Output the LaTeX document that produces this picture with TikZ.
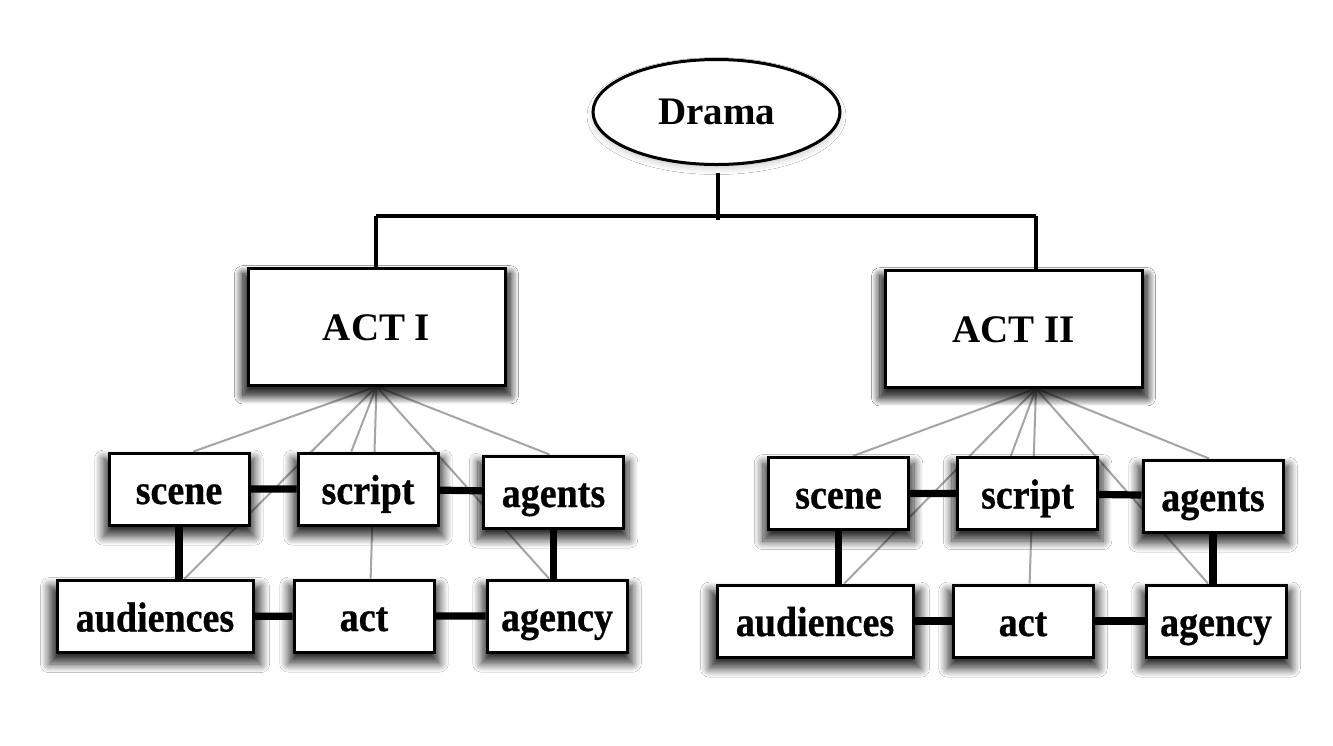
\documentclass[tikz,border=0pt]{standalone}
\usepackage{fontspec}
\setmainfont{Liberation Serif}
\newfontfamily\boxfont{Liberation Serif}[FakeStretch=0.905, FakeBold=0.6]
\usetikzlibrary{shapes.geometric,shadows.blur,backgrounds}
\definecolor{linkgray}{RGB}{165,165,165}
\tikzset{
  boxshadow/.style={blur shadow={shadow xshift=0pt, shadow yshift=-4pt, shadow scale=1.08, shadow blur radius=4pt, shadow blur steps=12, shadow opacity=80}},
  unit/.style={draw=black, line width=1.5pt, fill=white, inner sep=0pt, boxshadow,
    font=\boxfont\bfseries\fontsize{21}{24}\selectfont, text height=17pt, text depth=2pt,
    minimum width=70pt, minimum height=36pt},
  widebox/.style={unit, minimum width=98pt},
  actbox/.style={unit, font=\bfseries\fontsize{19.5}{23}\selectfont, minimum width=128.5pt, minimum height=58.5pt, text height=14pt, text depth=0pt,
    blur shadow={shadow xshift=0pt, shadow yshift=-4pt, shadow scale=1.04, shadow blur radius=4pt, shadow blur steps=12, shadow opacity=60}},
  topnode/.style={ellipse, draw=black, line width=1.5pt, fill=white, inner sep=0pt,
    font=\bfseries\fontsize{19.5}{23}\selectfont, minimum width=123.5pt, minimum height=52.5pt,
    blur shadow={shadow xshift=0pt, shadow yshift=-2pt, shadow blur radius=3pt, shadow opacity=20}},
  tree/.style={black, line width=1.7pt},
  link/.style={linkgray, line width=1pt},
  bond/.style={black, line width=3.6pt}
}
\begin{document}
\begin{tikzpicture}[x=0.5pt, y=-0.5pt]
    \useasboundingbox (0,0) rectangle (1333,745);
    % top of the tree
    \node [topnode] (drama) at (716.5,112) {Drama};
    \node [actbox] (actI) at (376.5,326.5) {ACT I};
    \node [actbox] (actII) at (1013.5,328.5) {ACT II};
    \coordinate (j0) at (718,216);
    \coordinate (j1) at (376,216);
    \coordinate (j2) at (1036,216);
    \draw [tree] ([yshift=-3.5pt]drama.south -| j0) -- ([yshift=-2pt]j0);
    \draw [tree] (j1) -- (j2);
    \draw [tree] (j1) -- (j1 |- actI.north);
    \draw [tree] (j2) -- (j2 |- actII.north);
    % first act
    \node [unit] (sceneA) at (179,489) {scene};
    \node [unit] (scriptA) at (368,489) {script};
    \node [unit] (agentsA) at (553.5,492) {agents};
    \node [widebox] (audA) at (155,616.5) {audiences};
    \node [unit] (actA) at (364,616) {act};
    \node [unit] (agencyA) at (557,616) {agency};
    % second act
    \node [unit] (sceneB) at (838.5,493.5) {scene};
    \node [unit] (scriptB) at (1027.5,493.5) {script};
    \node [unit] (agentsB) at (1213,496) {agents};
    \node [widebox] (audB) at (815,621) {audiences};
    \node [unit] (actB) at (1023,621) {act};
    \node [unit] (agencyB) at (1216,621) {agency};
    \begin{pgfonlayer}{background}
    \fill [white] (0,0) rectangle (1333,745);
    % thin links from each act
    \coordinate (apexA) at (actI.south);
    \coordinate (apexB) at (j2 |- actII.south);
    \draw [link] (apexA) -- (sceneA.69);
    \draw [link] (apexA) -- (audA.52);
    \draw [link] (apexA) -- (scriptA.114);
    \draw [link] (apexA) -- (actA.80);
    \draw [link] (apexA) -- (agencyA.102);
    \draw [link] (apexA) -- (agentsA.96);
    \draw [link] (apexB) -- (sceneB.69);
    \draw [link] (apexB) -- (audB.52);
    \draw [link] (apexB) -- (scriptB.114);
    \draw [link] (apexB) -- (actB.80);
    \draw [link] (apexB) -- (agencyB.102);
    \draw [link] (apexB) -- (agentsB.96);
    % thick bonds
    \draw [bond] (sceneA) -- (scriptA) -- (agentsA);
    \draw [bond] (audA) -- (actA) -- (agencyA);
    \draw [bond] (sceneA) -- (sceneA |- audA);
    \draw [bond] (agentsA) -- (agentsA |- agencyA);
    \draw [bond] (sceneB) -- (scriptB) -- (agentsB);
    \draw [bond] (audB) -- (actB) -- (agencyB);
    \draw [bond] (sceneB) -- (sceneB |- audB);
    \draw [bond] (agentsB) -- (agentsB |- agencyB);
    \end{pgfonlayer}
\end{tikzpicture}
\end{document}
